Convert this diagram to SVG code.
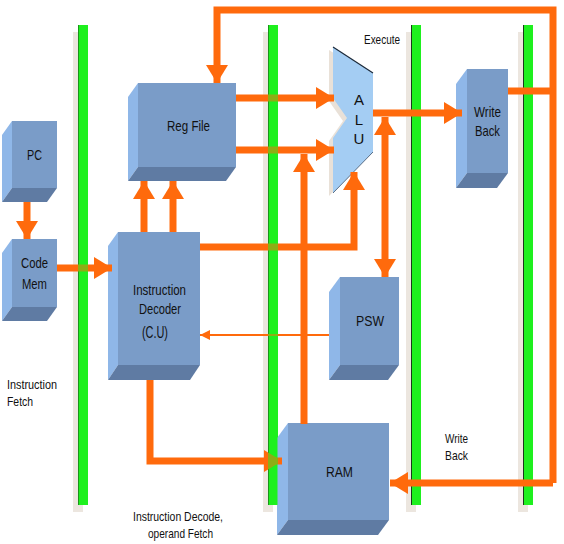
<svg xmlns="http://www.w3.org/2000/svg" width="564" height="544" viewBox="0 0 564 544">
<style>
.bar{fill:#1ef01e}
.barl{stroke:#1a3a1a;stroke-width:1}
.shadow{fill:#ece6df}
.front{fill:#7a9cc8}
.left{fill:#8fb7e8}
.bottom{fill:#5f7ba3}
.c{fill:none;stroke:#ff6a0c;stroke-width:7}
.thin{fill:none;stroke:#ff6a0c;stroke-width:2}
text{font-family:"Liberation Sans",Arial,sans-serif;fill:#111;}
.lbl{font-size:15px}
.sm{font-size:13px}
</style>
<defs>
<marker id="ah" markerUnits="userSpaceOnUse" markerWidth="18" markerHeight="22" viewBox="0 0 18 22" refX="18" refY="11" orient="auto-start-reverse">
<path d="M0,0 L18,11 L0,22 z" fill="#ff6a0c"/>
</marker>
<marker id="ahs" markerUnits="userSpaceOnUse" markerWidth="10" markerHeight="10" viewBox="0 0 10 10" refX="10" refY="5" orient="auto">
<path d="M0,0 L10,5 L0,10 z" fill="#ff6a0c"/>
</marker>
</defs>

<g id="bar-shadows">
<rect class="shadow" x="73" y="32" width="10" height="480"/>
<rect class="shadow" x="263" y="32" width="10" height="480"/>
<rect class="shadow" x="406" y="32" width="10" height="480"/>
<rect class="shadow" x="518" y="32" width="10" height="480"/>
</g>
<g id="bars">
<rect class="bar" x="78" y="25" width="10" height="480"/>
<rect class="bar" x="268" y="25" width="10" height="480"/>
<rect class="bar" x="411" y="25" width="10" height="480"/>
<rect class="bar" x="523" y="25" width="10" height="480"/>
<line class="barl" x1="78.5" y1="25" x2="78.5" y2="505"/>
<line class="barl" x1="268.5" y1="25" x2="268.5" y2="505"/>
<line class="barl" x1="411.5" y1="25" x2="411.5" y2="505"/>
<line class="barl" x1="523.5" y1="25" x2="523.5" y2="505"/>
</g>

<g id="alu">
<polygon points="329,50 369,76 369,155 329,196 329,141 343,121 329,101" fill="#e9e1d8"/>
<polygon points="333,47 373,73 373,152 333,193 333,138 347,118 333,98" fill="#a4cdf3"/>
<polyline points="333,47 373,73" fill="none" stroke="#1c2a3a" stroke-width="1.2"/>
<polyline points="373,152 333,193" fill="none" stroke="#5a6f88" stroke-width="1"/>
<text class="lbl" x="359" y="105" text-anchor="middle">A</text>
<text class="lbl" x="359" y="125" text-anchor="middle">L</text>
<text class="lbl" x="359" y="144" text-anchor="middle">U</text>
</g>

<g id="pc">
<rect class="front" x="12" y="121" width="45" height="67"/>
<polygon class="left" points="2,135 12,121 12,188 2,202"/>
<polygon class="bottom" points="2,202 12,188 57,188 47,202"/>
<text class="lbl" x="27" y="160" textLength="15" lengthAdjust="spacingAndGlyphs">PC</text>
</g>

<g id="code-mem">
<rect class="front" x="12" y="239" width="45" height="68"/>
<polygon class="left" points="2,253 12,239 12,307 2,321"/>
<polygon class="bottom" points="2,321 12,307 57,307 47,321"/>
<text class="lbl" x="21" y="268" textLength="27" lengthAdjust="spacingAndGlyphs">Code</text>
<text class="lbl" x="22" y="289" textLength="25" lengthAdjust="spacingAndGlyphs">Mem</text>
</g>

<g id="reg-file">
<rect class="front" x="138" y="83" width="98" height="84"/>
<polygon class="left" points="128,97 138,83 138,167 128,181"/>
<polygon class="bottom" points="128,181 138,167 236,167 226,181"/>
<text class="lbl" x="167" y="131" textLength="43" lengthAdjust="spacingAndGlyphs">Reg File</text>
</g>

<g id="instruction-decoder">
<rect class="front" x="118" y="232" width="82" height="133"/>
<polygon class="left" points="108,246 118,232 118,365 108,380"/>
<polygon class="bottom" points="108,380 118,365 200,365 190,380"/>
<text class="lbl" x="133" y="295" textLength="53" lengthAdjust="spacingAndGlyphs">Instruction</text>
<text class="lbl" x="139" y="314" textLength="42" lengthAdjust="spacingAndGlyphs">Decoder</text>
<text x="142" y="338" style="font-size:17px" textLength="26" lengthAdjust="spacingAndGlyphs">(C.U)</text>
</g>

<g id="write-back">
<rect class="front" x="467" y="69" width="41" height="104"/>
<polygon class="left" points="456,84 467,69 467,173 456,188"/>
<polygon class="bottom" points="456,188 467,173 508,173 497,188"/>
<text class="lbl" x="474" y="117" textLength="27" lengthAdjust="spacingAndGlyphs">Write</text>
<text class="lbl" x="475" y="136" textLength="25" lengthAdjust="spacingAndGlyphs">Back</text>
</g>

<g id="psw">
<rect class="front" x="340" y="277" width="59" height="88"/>
<polygon class="left" points="329,292 340,277 340,365 329,380"/>
<polygon class="bottom" points="329,380 340,365 399,365 388,380"/>
<text class="lbl" x="356" y="326" textLength="28" lengthAdjust="spacingAndGlyphs">PSW</text>
</g>

<g id="ram">
<rect class="front" x="288" y="423" width="101" height="97"/>
<polygon class="left" points="277,438 288,423 288,520 277,535"/>
<polygon class="bottom" points="277,535 288,520 389,520 378,535"/>
<text class="lbl" x="326" y="477" textLength="27" lengthAdjust="spacingAndGlyphs">RAM</text>
</g>

<g id="connectors">
<path class="c" d="M27,202 L27,239" marker-end="url(#ah)"/>
<path class="c" d="M57,268 L112,268" marker-end="url(#ah)"/>
<path class="c" d="M144,232 L144,181" marker-end="url(#ah)"/>
<path class="c" d="M173,232 L173,181" marker-end="url(#ah)"/>
<path class="c" d="M236,98 L334,98" marker-end="url(#ah)"/>
<path class="c" d="M236,150 L334,150" marker-end="url(#ah)"/>
<path class="c" d="M200,247 L354,247 L354,172" marker-end="url(#ah)"/>
<path class="c" d="M304,424 L304,154" marker-end="url(#ah)"/>
<path class="c" d="M373,113 L462,113" marker-end="url(#ah)"/>
<path class="c" d="M385,117 L385,277" marker-start="url(#ah)" marker-end="url(#ah)"/>
<path class="c" d="M508,91 L553,91"/>
<path class="c" d="M553,483 L553,10 L217,10 L217,83" marker-end="url(#ah)"/>
<path class="c" d="M553,483 L390,483" marker-end="url(#ah)"/>
<path class="c" d="M150,380 L150,461 L282,461" marker-end="url(#ah)"/>
<path class="thin" d="M329,335 L200,335" marker-end="url(#ahs)"/>
</g>

<g id="bar-overlay" opacity="0.5">
<rect class="bar" x="78" y="25" width="10" height="480"/>
<rect class="bar" x="268" y="25" width="10" height="480"/>
</g>

<g id="stage-labels">
<text class="sm" x="364" y="44" textLength="36" lengthAdjust="spacingAndGlyphs">Execute</text>
<text class="sm" x="7" y="389" textLength="50" lengthAdjust="spacingAndGlyphs">Instruction</text>
<text class="sm" x="7" y="406" textLength="26" lengthAdjust="spacingAndGlyphs">Fetch</text>
<text class="sm" x="133" y="521" textLength="90" lengthAdjust="spacingAndGlyphs">Instruction Decode,</text>
<text class="sm" x="148" y="538" textLength="65" lengthAdjust="spacingAndGlyphs">operand Fetch</text>
<text class="sm" x="445" y="443" textLength="23" lengthAdjust="spacingAndGlyphs">Write</text>
<text class="sm" x="445" y="460" textLength="23" lengthAdjust="spacingAndGlyphs">Back</text>
</g>
</svg>
